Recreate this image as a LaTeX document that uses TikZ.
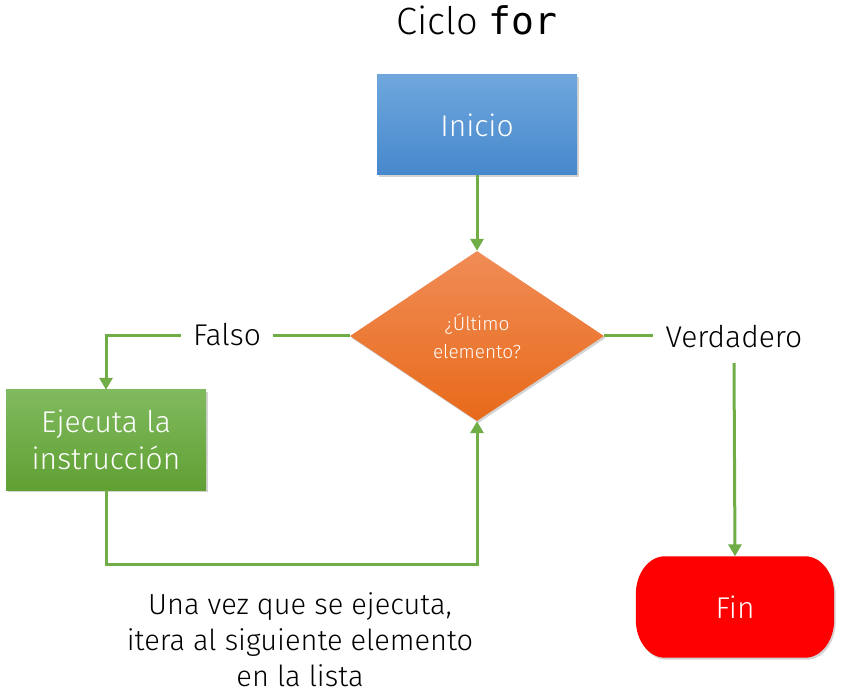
\documentclass[tikz,border=0pt]{standalone}
\usepackage{fontspec}
\setmainfont{Fira Sans Light}
\newfontfamily\codefont{DejaVu Sans Mono}
\usetikzlibrary{arrows.meta,shapes.geometric,shadows,calc}
\definecolor{lnk}{HTML}{70AD47}
\definecolor{bluetop}{HTML}{6FA7DD}
\definecolor{bluebot}{HTML}{4688CC}
\definecolor{greentop}{HTML}{80BA5E}
\definecolor{greenbot}{HTML}{60A033}
\definecolor{orangetop}{HTML}{F08C56}
\definecolor{orangebot}{HTML}{E86A1A}
\tikzset{
  shad/.style={drop shadow={opacity=0.35,shadow xshift=1.5pt,shadow yshift=-2pt}},
  boxnode/.style={rectangle,minimum width=200pt,minimum height=100pt,inner sep=0pt,
    text=white,align=center,font=\fontsize{30}{37}\selectfont,shad},
  conn/.style={draw=lnk,line width=3pt},
  arr/.style={conn,-{Triangle[width=13pt,length=12pt]}},
  lbl/.style={font=\fontsize{30}{36}\selectfont,inner xsep=12pt,inner ysep=0pt,text height=22pt,text depth=2pt},
}
\begin{document}
\begin{tikzpicture}[x=1pt,y=-1pt]
\useasboundingbox (0,0) rectangle (841,700);
\node (title) at (477,20) {\fontsize{38}{44}\selectfont Ciclo {\codefont for}};
\node[boxnode,top color=bluetop,bottom color=bluebot] (ini) at (477,125) {Inicio};
\node[diamond,minimum width=254pt,minimum height=170pt,inner sep=0pt,aspect=1.5,
  top color=orangetop,bottom color=orangebot,text=white,align=center,
  font=\fontsize{19}{28}\selectfont,shad] (dec) at (477,336) {¿Último\\elemento?};
\node[boxnode,top color=greentop,bottom color=greenbot] (ej) at (106,440) {Ejecuta la\\instrucción};
\node[rectangle,minimum width=198pt,minimum height=101pt,inner sep=0pt] (fin) at (735,607) {};
\fill[red,shad] ([xshift=29pt]fin.north west) -- ([xshift=-29pt]fin.north east)
  arc[start angle=90,end angle=0,x radius=29pt,y radius=38pt]
  -- ([yshift=38pt]fin.south east)
  arc[start angle=0,end angle=-90,x radius=29pt,y radius=38pt]
  -- ([xshift=29pt]fin.south west)
  arc[start angle=270,end angle=180,x radius=29pt,y radius=38pt]
  -- ([yshift=-38pt]fin.north west)
  arc[start angle=180,end angle=90,x radius=29pt,y radius=38pt] -- cycle;
\node[text=white,font=\fontsize{30}{36}\selectfont] at (fin.center) {Fin};
\node[lbl] (falso) at (227,336) {Falso};
\node[lbl,inner ysep=13pt] (verd) at (734,338) {Verdadero};
\node[align=center,font=\fontsize{29}{36}\selectfont] (nota) at (300,640)
  {Una vez que se ejecuta,\\itera al siguiente elemento\\en la lista};
\coordinate (lc) at (477,564);
\draw[arr] (ini.south) -- (dec.north);
\draw[conn] (dec.west) -- (falso.east);
\draw[arr] (falso.west) -| (ej.north);
\draw[conn] (dec.east) -- (verd.west |- dec.east);
\draw[arr] (verd.south) -- (fin.north);
\draw[arr] (ej.south) |- (lc) -- (dec.south);
\end{tikzpicture}
\end{document}
